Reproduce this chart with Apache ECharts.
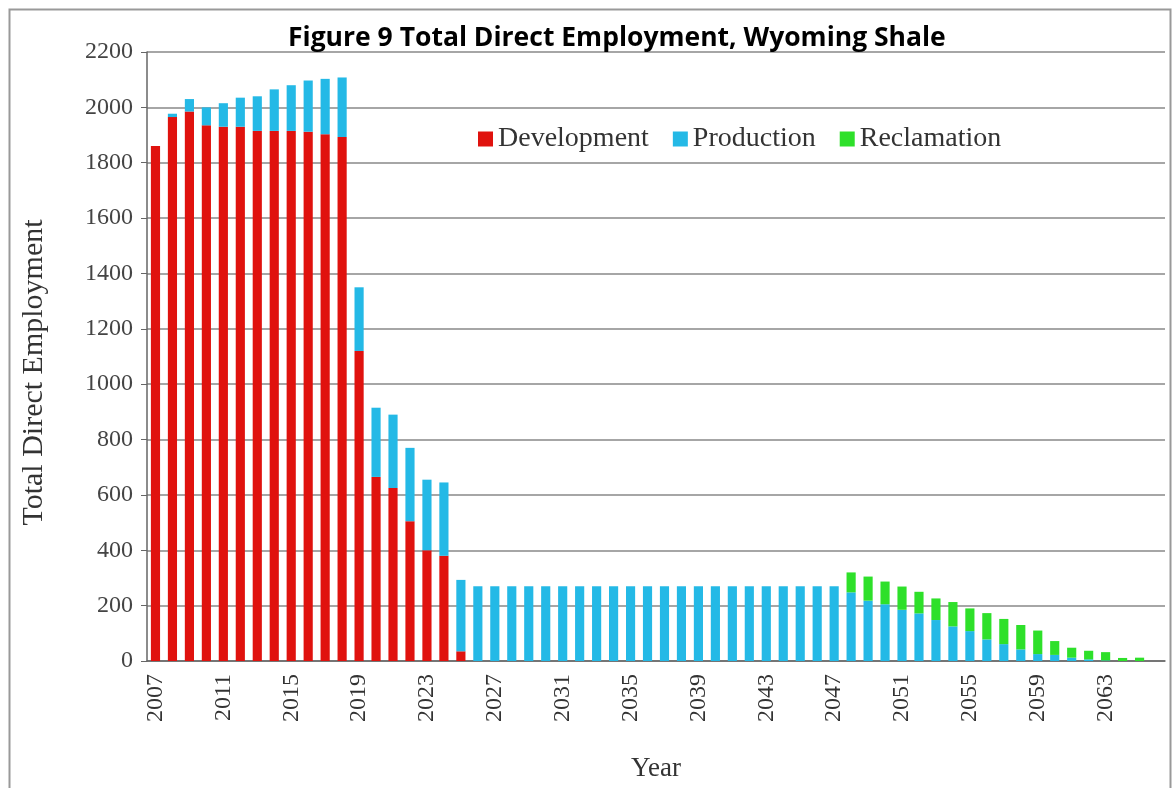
<!DOCTYPE html>
<html>
<head>
<meta charset="utf-8">
<script src="https://cdn.jsdelivr.net/npm/echarts@6/dist/echarts.min.js"></script>
<style>
html,body{margin:0;padding:0;background:#fff;}
#chart{width:1174px;height:788px;}
</style>
</head>
<body>
<div id="chart"></div>
<script>
const years = [];
for (let y = 2007; y <= 2066; y++) years.push(String(y));

const development = [1860, 1965, 1985, 1935, 1930, 1930, 1915, 1915, 1915, 1912, 1903, 1893,
  1120, 665, 625, 505, 400, 380, 35,
  0,0,0,0,0,0,0,0,0,0,0,0,0,0,0,0,0,0,0,0,0,0,0,0,0,0,0,0,0,0,0,0,0,0,0,0,0,0,0,0,0];

const production = [0, 12, 45, 65, 85, 105, 125, 150, 165, 185, 200, 215,
  230, 250, 265, 265, 255, 265, 258,
  270,270,270,270,270,270,270,270,270,270,270,270,270,270,270,270,270,270,270,270,270,270,
  248, 218, 205, 185, 172, 148, 125, 108, 78, 61, 42, 25, 22, 12, 6, 2, 0, 0, 0];

const reclamation = [0,0,0,0,0,0,0,0,0,0,0,0,0,0,0,0,0,0,0,0,
  0,0,0,0,0,0,0,0,0,0,0,0,0,0,0,0,0,0,0,0,0,
  72, 87, 82, 84, 78, 78, 88, 82, 95, 91, 88, 85, 50, 36, 31, 30, 11, 12, 0];

const yTicks = { min: 0, max: 2200, interval: 200 };

const chart = echarts.init(document.getElementById('chart'));
const serif = 'Liberation Serif';
chart.setOption({
  backgroundColor: '#fff',
  animation: false,
  title: {
    text: 'Figure 9 Total Direct Employment, Wyoming Shale',
    left: 283, top: 20,
    textStyle: { fontFamily: 'Open Sans', fontWeight: 'bold', fontSize: 26.5, color: '#000' }
  },
  legend: {
    left: 473, top: 120,
    itemWidth: 15, itemHeight: 15, itemGap: 24,
    icon: 'rect',
    textStyle: { fontFamily: serif, fontSize: 28, color: '#333' },
    data: ['Development', 'Production', 'Reclamation']
  },
  graphic: [{
    type: 'rect', left: 7, top: 7, z: -1,
    shape: { width: 1161, height: 790 },
    style: { fill: 'none', stroke: '#999', lineWidth: 2 }
  }],
  grid: { left: 147, right: 9, top: 52, bottom: 127 },
  xAxis: {
    type: 'category',
    data: years,
    name: 'Year',
    nameLocation: 'middle',
    nameGap: 94,
    nameTextStyle: { fontFamily: serif, fontSize: 27, color: '#333' },
    axisLine: { lineStyle: { color: '#666', width: 1.5 } },
    axisTick: { interval: 0, length: 5, lineStyle: { color: '#666' } },
    axisLabel: { interval: 3, rotate: 90, fontFamily: serif, fontSize: 24, color: '#333', margin: 13 }
  },
  yAxis: {
    type: 'value',
    min: yTicks.min, max: yTicks.max, interval: yTicks.interval,
    name: 'Total Direct Employment',
    nameLocation: 'middle',
    nameGap: 98,
    nameTextStyle: { fontFamily: serif, fontSize: 30, color: '#333', padding: [0, 32, 0, 0] },
    axisLine: { show: true, lineStyle: { color: '#666', width: 1.5 } },
    axisTick: { show: true, length: 6, lineStyle: { color: '#666' } },
    axisLabel: { fontFamily: serif, fontSize: 24, color: '#444', margin: 14,
      formatter: function (v) { return String(v); } },
    splitLine: { lineStyle: { color: '#888', width: 1.5 } }
  },
  series: [
    { name: 'Development', type: 'bar', stack: 'total', data: development, barWidth: '54%',
      itemStyle: { color: '#E0120E' } },
    { name: 'Production', type: 'bar', stack: 'total', data: production, barWidth: '54%',
      itemStyle: { color: '#24B9E6' } },
    { name: 'Reclamation', type: 'bar', stack: 'total', data: reclamation, barWidth: '54%',
      itemStyle: { color: '#2EE02A' } }
  ]
});
</script>
</body>
</html>
